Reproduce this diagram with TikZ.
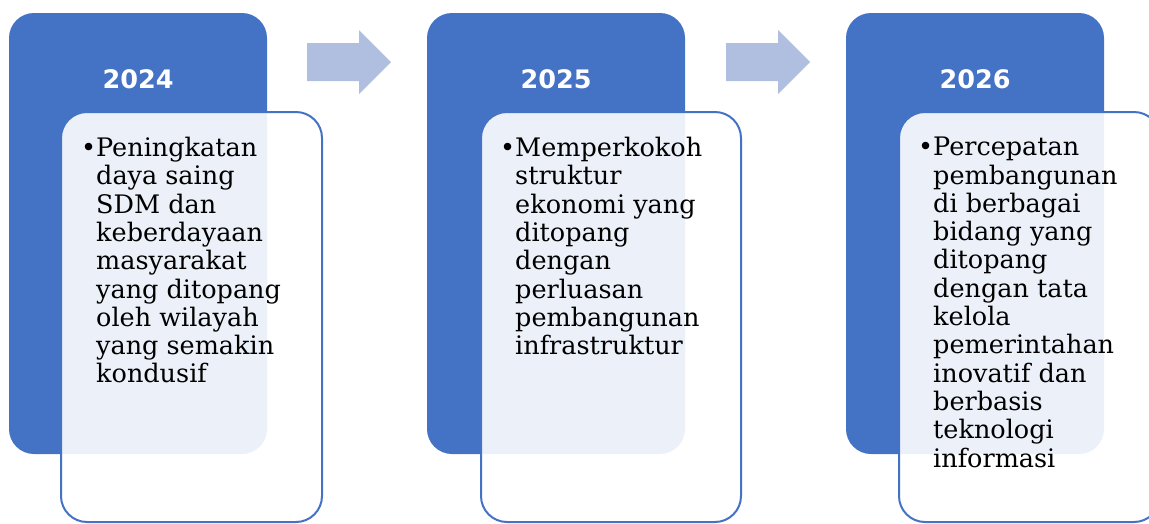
\documentclass[tikz,border=0pt]{standalone}
\usepackage{fontspec}
\setmainfont{DejaVu Serif}
\newfontfamily\yearfont{DejaVu Sans}
\definecolor{accent}{RGB}{68,114,196}
\definecolor{arrowcol}{RGB}{176,190,224}
\begin{document}
\begin{tikzpicture}[x=1pt,y=-1pt,
  yearbox/.style={fill=accent,draw=none,rounded corners=25pt},
  textbox/.style={fill=white,fill opacity=0.9,draw=accent,line width=2pt,rounded corners=26pt},
  yearlabel/.style={text=white,font=\yearfont\bfseries\fontsize{25.5}{30}\selectfont,inner sep=0pt},
  bodytext/.style={anchor=north west,inner sep=0pt,align=left,font=\fontsize{25.5}{28.3}\selectfont},
  bigarrow/.style={fill=arrowcol,draw=none}]
\useasboundingbox (0,0) rectangle (1149,523);
\clip (0,0) rectangle (1149,523);
% column 1
\path[yearbox] (9,13) rectangle (267,454);
\node[yearlabel] (y1) at (138,79) {2024};
\path[textbox] (61,112) rectangle (322,522);
\node[bodytext] (t1) at (96,137) {\llap{•}Peningkatan\\daya saing\\SDM dan\\keberdayaan\\masyarakat\\yang ditopang\\oleh wilayah\\yang semakin\\kondusif};
% column 2
\path[yearbox] (427,13) rectangle (685,454);
\node[yearlabel] (y2) at (556,79) {2025};
\path[textbox] (481,112) rectangle (741,522);
\node[bodytext] (t2) at (515,137) {\llap{•}Memperkokoh\\struktur\\ekonomi yang\\ditopang\\dengan\\perluasan\\pembangunan\\infrastruktur};
% column 3
\path[yearbox] (846,13) rectangle (1104,454);
\node[yearlabel] (y3) at (975,79) {2026};
\path[textbox] (899,112) rectangle (1160,522);
\node[bodytext] (t3) at (933,137) {\llap{•}Percepatan\\pembangunan\\di berbagai\\bidang yang\\ditopang\\dengan tata\\kelola\\pemerintahan\\inovatif dan\\berbasis\\teknologi\\informasi};
% arrows
\path[bigarrow] (307,43) -- (359,43) -- (359,30) -- (391,62) -- (359,94) -- (359,81) -- (307,81) -- cycle;
\path[bigarrow] (726,43) -- (778,43) -- (778,30) -- (810,62) -- (778,94) -- (778,81) -- (726,81) -- cycle;
\end{tikzpicture}
\end{document}
